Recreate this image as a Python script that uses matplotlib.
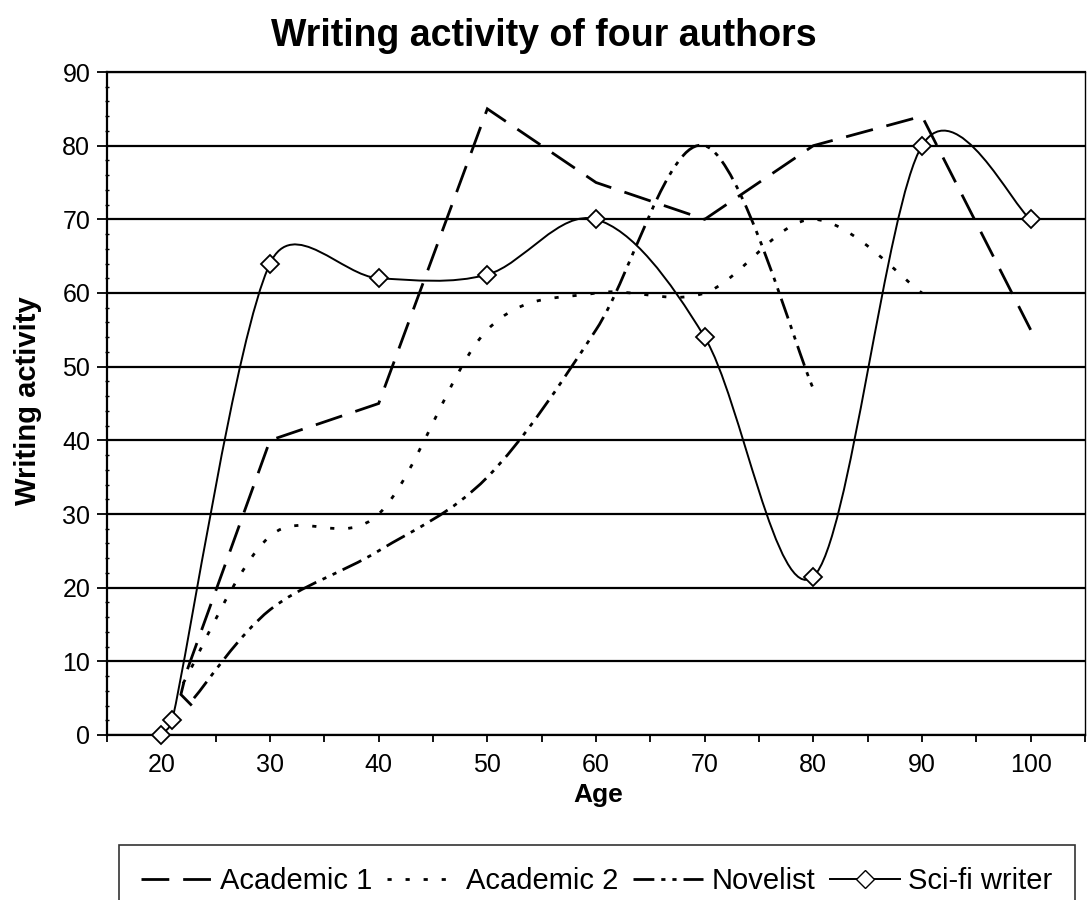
import numpy as np
import matplotlib
matplotlib.use("Agg")
import matplotlib.pyplot as plt
from matplotlib.path import Path
from matplotlib.patches import PathPatch
from matplotlib.lines import Line2D
from matplotlib.ticker import MultipleLocator

plt.rcParams['font.family'] = ['Liberation Sans', 'DejaVu Sans']
plt.rcParams['lines.scale_dashes'] = False

# values
acad1_age = [22.8, 21.8, 22.3, 30, 40, 50, 60, 70, 80, 90, 100]
acad1_val = [4, 5.5, 8.5, 40, 45, 85, 75, 70, 80, 84, 55]

acad2_age = [22, 30, 40, 50, 60, 70, 80, 90]
acad2_val = [7, 27, 30, 55, 60, 60, 70, 60]

novel_age = [23, 30, 40, 50, 60, 70, 80]
novel_val = [5, 17, 25, 35, 55, 80, 47]

scifi_age = [20, 21, 30, 40, 50, 60, 70, 80, 90, 100]
scifi_val = [0, 2, 64, 62, 62.5, 70, 54, 21.5, 80, 70]

labels = ['Academic 1', 'Academic 2', 'Novelist', 'Sci-fi writer']
dash_a1 = (0, (20, 10))
dash_a2 = (0, (3, 10))
dash_nov = (0, (15, 5, 3, 5, 3, 5))


def excel_smooth(ax, xs, ys):
    """Smoothed line like Excel draws it: cubic Bezier pieces in screen space."""
    p = ax.transData.transform(np.column_stack([xs, ys]))
    n = len(p)
    verts = [p[0]]
    for i in range(n - 1):
        p0 = p[i - 1] if i > 0 else p[i]
        p1, p2 = p[i], p[i + 1]
        p3 = p[i + 2] if i + 2 < n else p[i + 1]
        d12 = np.hypot(*(p2 - p1))
        d02 = np.hypot(*(p2 - p0))
        d13 = np.hypot(*(p3 - p1))
        f1 = 1 / 6 if d02 / 6 < d12 / 2 else d12 / 2 / d02
        f2 = 1 / 6 if d13 / 6 < d12 / 2 else d12 / 2 / d13
        verts += [p1 + (p2 - p0) * f1, p2 - (p3 - p1) * f2, p2]
    verts = ax.transData.inverted().transform(np.array(verts))
    codes = [Path.MOVETO] + [Path.CURVE4] * (3 * (n - 1))
    return Path(verts, codes)


fig = plt.figure(figsize=(10.87, 9.0), dpi=100)
ax = fig.add_axes([107 / 1087, 165 / 900, 978 / 1087, 663 / 900])
ax.set_xlim(15, 105)
ax.set_ylim(0, 90)

# Academic 1 is drawn with straight segments, the others smoothed
ax.plot(acad1_age, acad1_val, color='black', linewidth=2.0, linestyle=dash_a1,
        dash_joinstyle='miter', zorder=3)
for xs, ys, ls, lw in [(acad2_age, acad2_val, dash_a2, 2.0),
                       (novel_age, novel_val, dash_nov, 2.0),
                       (scifi_age, scifi_val, 'solid', 1.4)]:
    ax.add_patch(PathPatch(excel_smooth(ax, xs, ys), fill=False,
                           edgecolor='black', linewidth=lw, linestyle=ls,
                           capstyle='butt', zorder=3))

ax.plot(scifi_age, scifi_val, linestyle='none', marker='D', markersize=9.5,
        markerfacecolor='white', markeredgecolor='black', markeredgewidth=1.3,
        zorder=4, clip_on=False)

# axes styling
ax.yaxis.set_major_locator(MultipleLocator(10))
ax.yaxis.set_minor_locator(MultipleLocator(2))
ax.xaxis.set_major_locator(MultipleLocator(10))
ax.xaxis.set_minor_locator(MultipleLocator(5))
ax.yaxis.grid(True, color='black', linewidth=1.6)
ax.set_axisbelow(True)
ax.tick_params(axis='both', which='major', labelsize=18, color='black',
               width=1.3)
ax.tick_params(axis='y', which='major', length=7, pad=5)
ax.tick_params(axis='x', which='major', length=5, pad=8)
ax.tick_params(axis='y', which='minor', length=3, width=1, direction='inout')
ax.tick_params(axis='x', which='minor', length=5, width=1.3)
for side in ['left', 'bottom', 'top']:
    ax.spines[side].set_linewidth(1.6)
ax.spines['right'].set_linewidth(1.0)

fig.text(0.5, 1 - 36 / 900, 'Writing activity of four authors', ha='center',
         va='center', fontsize=27, fontweight='bold')
fig.text(598 / 1087, 1 - 795 / 900, 'Age', ha='center', va='center',
         fontsize=19, fontweight='bold')
fig.text(28 / 1087, 1 - 401 / 900, 'Writing activity', ha='center',
         va='center', rotation=90, fontsize=21, fontweight='bold')

handles = [
    Line2D([], [], color='black', linewidth=2.0, linestyle=dash_a1),
    Line2D([], [], color='black', linewidth=2.0, linestyle=dash_a2),
    Line2D([], [], color='black', linewidth=2.0, linestyle=dash_nov),
    Line2D([], [], color='black', linewidth=1.4, marker='D', markersize=9.5,
           markerfacecolor='white', markeredgecolor='black'),
]
leg = fig.legend(handles, labels, loc='upper center',
                 bbox_to_anchor=(597 / 1087, 1 - 845 / 900), ncol=4,
                 frameon=True, fancybox=False, edgecolor='black',
                 fontsize=21, handlelength=2.4, columnspacing=0.5,
                 handletextpad=0.3, borderpad=0.75, borderaxespad=0)
leg.get_frame().set_linewidth(1.2)

fig.savefig('out.png', dpi=100)
